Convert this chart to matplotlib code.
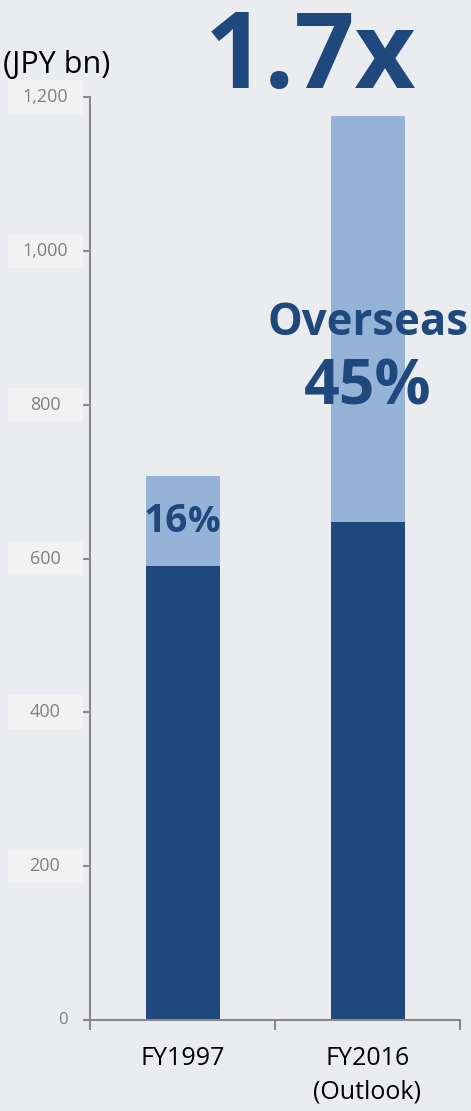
import numpy as np
import matplotlib
matplotlib.use('Agg')
import matplotlib.pyplot as plt
from matplotlib.patches import Rectangle

plt.rcParams['font.family'] = ['Open Sans', 'DejaVu Sans']

categories = ['FY1997', 'FY2016\n(Outlook)']
domestic = [590, 647]
overseas = [117, 528]
yticks = [0, 200, 400, 600, 800, 1000, 1200]
ytick_labels = ['0', '200', '400', '600', '800', '1,000', '1,200']

dark = '#1F497D'
light = '#95B3D7'
bg = '#EBECF0'
grey = '#898989'

fig = plt.figure(figsize=(4.71, 11.11), dpi=100, facecolor=bg)
ax = fig.add_axes([90/471, 91/1111, 370/471, 923/1111], facecolor=bg)

x = np.arange(len(categories))
ax.bar(x, domestic, width=0.4, color=dark)
ax.bar(x, overseas, width=0.4, bottom=domestic, color=light)

ax.set_xlim(-0.5, 1.5)
ax.set_ylim(0, 1200)
for s in ['top', 'right']:
    ax.spines[s].set_visible(False)
for s in ['left', 'bottom']:
    ax.spines[s].set_color(grey)
    ax.spines[s].set_linewidth(1.5)

# x axis: tick marks on category boundaries, labels at centres
ax.set_xticks(x)
ax.set_xticklabels(categories, fontsize=18, linespacing=1.45)
ax.tick_params(axis='x', which='major', length=0, pad=19)
ax.set_xticks([-0.5, 0.5, 1.5], minor=True)
ax.tick_params(axis='x', which='minor', length=7, width=1.5, color=grey, direction='out')

# y axis: own labels in pale boxes
ax.set_yticks(yticks)
ax.set_yticklabels([])
ax.tick_params(axis='y', length=5, width=1.5, color=grey, direction='out')
trans = ax.get_yaxis_transform()
for v, lab in zip(yticks, ytick_labels):
    if v == 0:
        ax.text(-22/370, v, lab, transform=trans, ha='right', va='center',
                fontsize=12, color='#808080')
        continue
    ax.add_patch(Rectangle((-82/370, v - 22), 75/370, 44, transform=trans,
                           facecolor='#F2F2F2', edgecolor='none', clip_on=False))
    ax.text(-45/370, v, lab, transform=trans, ha='center', va='center',
            fontsize=13, color='#808080')

fig.text(3/471, 1 - 73/1111, '(JPY bn)', fontsize=22, color='black', va='baseline')
fig.text(205/471, 1 - 88/1111, '1.7x', fontsize=76, fontweight='bold', color=dark, va='baseline')

ax.text(1, 890, 'Overseas', fontsize=31.5, fontweight='bold', color=dark, ha='center', va='baseline')
ax.text(1, 800, '45%', fontsize=45, fontweight='bold', color=dark, ha='center', va='baseline')
ax.text(0.03, 634, '16', fontsize=28, fontweight='bold', color=dark, ha='right', va='baseline')
ax.text(0.03, 634, '%', fontsize=26, fontweight='bold', color=dark, ha='left', va='baseline')

plt.savefig('out.png', dpi=100, facecolor=bg)
